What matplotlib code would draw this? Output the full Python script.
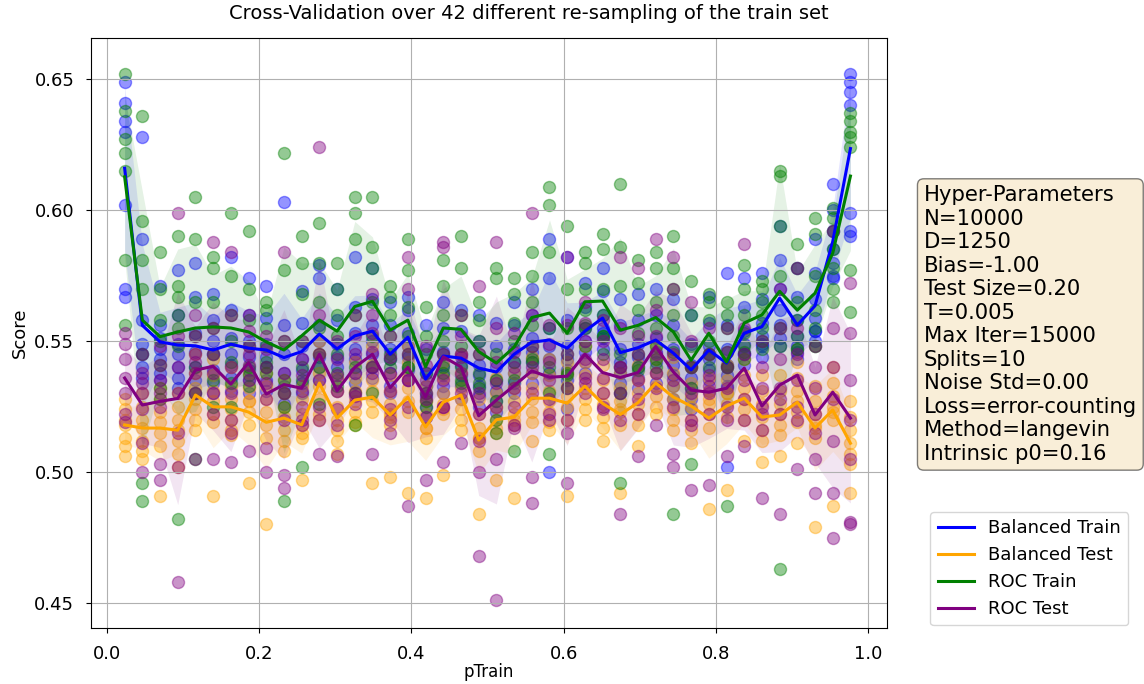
import numpy as np
import matplotlib.pyplot as plt

# 42 values of pTrain
p_train = np.arange(1, 43) / 43

# mean score per pTrain
bal_train_mean = [0.616, 0.556, 0.5497, 0.5485, 0.5482, 0.5466, 0.5488, 0.5473, 0.5466, 0.5437,
                  0.5460, 0.5527, 0.5470, 0.5520, 0.5538, 0.5450, 0.5515, 0.5355, 0.5443, 0.5435,
                  0.5397, 0.5382, 0.5450, 0.5496, 0.5504, 0.5473, 0.5538, 0.5588, 0.5456, 0.5475,
                  0.5504, 0.5454, 0.5390, 0.5466, 0.5416, 0.5530, 0.5555, 0.5664, 0.5561, 0.5635,
                  0.588, 0.6235]
bal_test_mean = [0.5180, 0.5168, 0.5168, 0.5160, 0.5294, 0.5249, 0.5249, 0.5229, 0.5190, 0.5206,
                 0.5180, 0.5340, 0.5206, 0.5275, 0.5286, 0.5218, 0.5286, 0.5172, 0.5267, 0.5294,
                 0.5122, 0.5200, 0.5210, 0.5282, 0.5282, 0.5263, 0.5328, 0.5262, 0.5220, 0.5265,
                 0.5340, 0.5286, 0.5252, 0.5206, 0.5252, 0.5282, 0.5210, 0.5218, 0.5267, 0.5168,
                 0.5237, 0.5110]
roc_train_mean = [0.6127, 0.558, 0.5517, 0.5535, 0.5550, 0.5554, 0.5550, 0.5535, 0.5497, 0.5466,
                  0.5520, 0.5580, 0.5538, 0.5632, 0.5652, 0.5542, 0.5580, 0.5402, 0.5550, 0.5545,
                  0.5460, 0.5416, 0.5477, 0.5590, 0.5607, 0.5530, 0.5650, 0.5653, 0.5542, 0.5560,
                  0.5590, 0.5535, 0.5427, 0.5530, 0.5420, 0.5569, 0.5600, 0.5690, 0.5618, 0.5683,
                  0.5836, 0.6130]
roc_test_mean = [0.5359, 0.5256, 0.5270, 0.5281, 0.5389, 0.5404, 0.5336, 0.5418, 0.5298, 0.5334,
                 0.5320, 0.5450, 0.5310, 0.5400, 0.5450, 0.5322, 0.5400, 0.5287, 0.5440, 0.5402,
                 0.5215, 0.5275, 0.5330, 0.5386, 0.5362, 0.5366, 0.5450, 0.5380, 0.5361, 0.5380,
                 0.5480, 0.5382, 0.5313, 0.5305, 0.5320, 0.5397, 0.5252, 0.5332, 0.5370, 0.5218,
                 0.5305, 0.5206]

# individual split scores (x1000), one row per pTrain
bal_train_pts = [
    [649, 641, 634, 630, 570, 567, 602], [628, 589, 558, 549, 545, 540, 536],
    [571, 556, 551, 547, 543, 538, 535], [577, 560, 549, 545, 540, 536, 532],
    [580, 567, 553, 546, 540, 535, 530], [568, 558, 550, 545, 539, 534, 530],
    [582, 562, 551, 545, 541, 536, 531], [574, 560, 550, 544, 539, 535, 530],
    [571, 559, 549, 544, 540, 535, 531], [603, 556, 545, 538, 533, 530, 526],
    [569, 557, 548, 543, 539, 534, 530], [579, 574, 556, 550, 544, 540, 535],
    [570, 558, 549, 544, 540, 535, 531], [582, 563, 553, 547, 543, 538, 534],
    [578, 566, 556, 550, 545, 540, 536], [565, 556, 547, 543, 538, 533, 530],
    [567, 562, 553, 548, 544, 539, 535], [556, 547, 538, 533, 529, 525, 521],
    [565, 555, 546, 541, 537, 533, 530], [562, 554, 545, 541, 537, 533, 528],
    [560, 550, 541, 537, 533, 529, 525], [557, 548, 540, 535, 531, 527, 523],
    [565, 556, 547, 542, 538, 534, 530], [570, 560, 551, 546, 542, 538, 534],
    [589, 574, 555, 548, 543, 538, 500], [582, 558, 548, 543, 539, 535, 524],
    [572, 563, 555, 550, 546, 542, 538], [578, 569, 560, 555, 551, 547, 553],
    [566, 556, 547, 542, 538, 534, 530], [568, 558, 549, 544, 540, 536, 532],
    [570, 560, 551, 546, 542, 538, 534], [566, 556, 547, 541, 537, 533, 528],
    [560, 549, 541, 536, 532, 528, 524], [567, 557, 548, 543, 539, 535, 531],
    [576, 556, 547, 541, 537, 533, 502], [574, 563, 554, 549, 545, 541, 545],
    [576, 566, 557, 552, 548, 544, 549], [594, 581, 570, 562, 556, 551, 548],
    [578, 567, 558, 552, 548, 543, 546], [589, 576, 566, 559, 554, 550, 554],
    [610, 600, 592, 585, 580, 575, 574], [652, 649, 645, 640, 599, 592, 590],
]
bal_test_pts = [
    [528, 524, 520, 518, 513, 510, 506], [530, 525, 520, 517, 512, 508, 505],
    [532, 528, 523, 519, 515, 510, 491], [530, 525, 520, 516, 512, 507, 502],
    [545, 538, 532, 528, 524, 520, 516], [543, 537, 531, 527, 522, 519, 491],
    [540, 533, 528, 524, 520, 516, 514], [538, 532, 527, 523, 518, 527, 496],
    [538, 533, 528, 523, 518, 513, 480], [535, 530, 525, 521, 516, 512, 508],
    [533, 528, 522, 518, 513, 515, 497], [550, 545, 538, 533, 528, 522, 520],
    [536, 531, 525, 520, 516, 512, 507], [542, 536, 531, 527, 523, 518, 519],
    [548, 541, 535, 531, 527, 523, 496], [537, 531, 526, 522, 518, 521, 498],
    [548, 542, 536, 532, 527, 523, 492], [533, 527, 522, 517, 513, 517, 490],
    [542, 536, 530, 526, 522, 524, 499], [545, 538, 532, 528, 524, 520, 516],
    [528, 522, 517, 513, 508, 513, 484], [536, 530, 525, 520, 515, 517, 497],
    [538, 532, 527, 522, 518, 520, 490], [544, 538, 532, 528, 523, 519, 512],
    [543, 537, 531, 527, 523, 519, 516], [542, 538, 533, 529, 525, 520, 491],
    [548, 542, 537, 532, 528, 524, 520], [541, 535, 530, 526, 521, 517, 512],
    [538, 532, 527, 523, 518, 524, 492], [541, 535, 530, 526, 522, 518, 510],
    [548, 543, 538, 533, 529, 525, 522], [544, 538, 533, 528, 524, 520, 516],
    [540, 534, 529, 525, 520, 516, 511], [536, 531, 526, 522, 517, 528, 486],
    [541, 535, 530, 526, 521, 530, 493], [543, 537, 532, 528, 524, 520, 512],
    [537, 531, 526, 521, 516, 512, 504], [537, 531, 526, 522, 518, 514, 506],
    [542, 536, 531, 527, 523, 519, 511], [533, 527, 522, 517, 513, 518, 479],
    [540, 534, 529, 525, 520, 523, 487], [527, 521, 516, 511, 507, 503, 492],
]
roc_train_pts = [
    [652, 638, 627, 622, 615, 581, 556], [636, 596, 581, 570, 545, 496, 489],
    [584, 570, 558, 550, 541, 532, 528], [590, 571, 567, 560, 555, 548, 482],
    [605, 589, 565, 552, 540, 530, 505], [582, 578, 565, 555, 545, 535, 525],
    [599, 575, 560, 550, 542, 534, 525], [592, 570, 558, 548, 540, 533, 537],
    [565, 562, 555, 548, 542, 538, 540], [622, 577, 550, 535, 525, 530, 489],
    [590, 580, 568, 550, 540, 535, 502], [595, 580, 565, 555, 545, 540, 526],
    [580, 570, 560, 552, 545, 538, 533], [605, 599, 589, 560, 540, 530, 518],
    [605, 586, 578, 565, 552, 540, 530], [571, 567, 560, 552, 545, 540, 543],
    [589, 577, 563, 552, 545, 540, 540], [563, 552, 545, 538, 530, 525, 527],
    [581, 571, 560, 550, 545, 540, 538], [590, 578, 560, 548, 540, 535, 534],
    [565, 558, 550, 545, 538, 532, 534], [578, 574, 545, 535, 527, 520, 515],
    [574, 568, 557, 550, 542, 535, 508], [584, 575, 565, 556, 548, 543, 542],
    [609, 602, 584, 555, 540, 530, 507], [594, 570, 555, 545, 538, 532, 537],
    [584, 580, 570, 562, 555, 548, 556], [591, 585, 570, 560, 552, 545, 552],
    [610, 586, 571, 545, 540, 530, 496], [581, 572, 562, 553, 545, 540, 539],
    [584, 578, 565, 555, 548, 543, 540], [590, 578, 570, 560, 552, 546, 484],
    [573, 560, 548, 540, 532, 540, 503], [568, 565, 558, 550, 545, 540, 545],
    [565, 560, 555, 546, 540, 540, 487], [579, 570, 560, 553, 548, 543, 546],
    [573, 570, 565, 560, 555, 550, 547], [615, 613, 594, 575, 555, 548, 463],
    [587, 578, 565, 558, 552, 547, 547], [597, 591, 575, 562, 555, 548, 548],
    [601, 597, 592, 585, 578, 570, 565], [637, 634, 630, 628, 624, 577, 561],
]
roc_test_pts = [
    [553, 549, 543, 536, 530, 522, 519], [545, 538, 530, 524, 511, 500, 534],
    [548, 541, 535, 530, 525, 503, 497], [599, 552, 540, 530, 515, 502, 458],
    [560, 552, 545, 538, 530, 542, 505], [588, 555, 545, 538, 530, 522, 505],
    [584, 560, 540, 530, 520, 515, 504], [560, 554, 548, 541, 535, 545, 508],
    [552, 547, 540, 534, 528, 509, 500], [584, 550, 538, 530, 520, 494, 499],
    [550, 543, 537, 531, 525, 518, 520], [624, 560, 545, 535, 525, 520, 507],
    [550, 543, 537, 531, 524, 518, 506], [560, 552, 545, 538, 530, 526, 529],
    [568, 560, 553, 546, 540, 538, 507], [552, 544, 538, 531, 524, 520, 515],
    [582, 570, 545, 535, 525, 535, 487], [548, 541, 535, 528, 521, 530, 497],
    [588, 586, 545, 535, 525, 525, 504], [560, 552, 545, 538, 530, 544, 511],
    [571, 545, 530, 522, 512, 500, 468], [588, 555, 542, 534, 525, 505, 451],
    [553, 546, 540, 532, 525, 518, 517], [599, 560, 548, 540, 530, 498, 488],
    [556, 549, 542, 535, 528, 522, 520], [582, 556, 545, 532, 520, 515, 496],
    [565, 557, 550, 543, 536, 530, 534], [558, 550, 543, 536, 530, 525, 524],
    [582, 555, 540, 530, 520, 540, 484], [578, 552, 545, 535, 528, 522, 506],
    [589, 562, 552, 545, 538, 532, 518], [582, 570, 545, 535, 525, 507, 502],
    [565, 550, 540, 530, 520, 518, 493], [555, 545, 537, 530, 522, 533, 495],
    [555, 546, 540, 532, 525, 520, 506], [587, 555, 545, 535, 528, 520, 510],
    [550, 540, 532, 525, 516, 522, 490], [570, 555, 543, 532, 522, 528, 484],
    [578, 555, 545, 535, 525, 520, 501], [548, 540, 532, 522, 515, 505, 492],
    [592, 555, 540, 528, 512, 492, 475], [572, 553, 535, 520, 505, 481, 480],
]

labels = ['Balanced Train', 'Balanced Test', 'ROC Train', 'ROC Test']
colors = ['blue', 'orange', 'green', 'purple']
means = [bal_train_mean, bal_test_mean, roc_train_mean, roc_test_mean]
points = [bal_train_pts, bal_test_pts, roc_train_pts, roc_test_pts]

hyper_params = ['N=10000', 'D=1250', 'Bias=-1.00', 'Test Size=0.20', 'T=0.005',
                'Max Iter=15000', 'Splits=10', 'Noise Std=0.00', 'Loss=error-counting',
                'Method=langevin', 'Intrinsic p0=0.16']

fig = plt.figure(figsize=(11.44, 6.84), dpi=100)
ax = fig.add_axes([0.0795, 0.082, 0.696, 0.862])

for lab, col, m, pts in zip(labels, colors, means, points):
    pts = np.array(pts) / 1000
    xs = np.repeat(p_train, pts.shape[1])
    ax.scatter(xs, pts.ravel(), color=col, alpha=0.42, s=75)
    m = np.array(m)
    sd = pts.std(axis=1)
    ax.fill_between(p_train, m - sd, m + sd, color=col, alpha=0.1, linewidth=0)
    ax.plot(p_train, m, color=col, linewidth=2.2, label=lab)

ax.set_xlim(-0.021, 1.025)
ax.set_ylim(0.4405, 0.6656)
ax.set_xticks([0.0, 0.2, 0.4, 0.6, 0.8, 1.0])
ax.set_yticks([0.45, 0.50, 0.55, 0.60, 0.65])
ax.grid(True)
ax.tick_params(labelsize=13)
ax.tick_params(axis='y', pad=8.5)
ax.tick_params(axis='x', pad=9)
ax.set_xlabel('pTrain', fontsize=12, labelpad=0)
ax.set_ylabel('Score', fontsize=13)
ax.set_title('Cross-Validation over 42 different re-sampling of the train set',
             fontsize=14, pad=14, x=0.55)

ax.text(1.046, 0.751, 'Hyper-Parameters\n' + '\n'.join(hyper_params),
        transform=ax.transAxes, fontsize=15.2, va='top', ha='left', linespacing=1.22,
        bbox=dict(boxstyle='round', facecolor='wheat', alpha=0.5))
ax.legend(loc='upper left', bbox_to_anchor=(1.043, 0.212), fontsize=13)

fig.savefig('out.png')
